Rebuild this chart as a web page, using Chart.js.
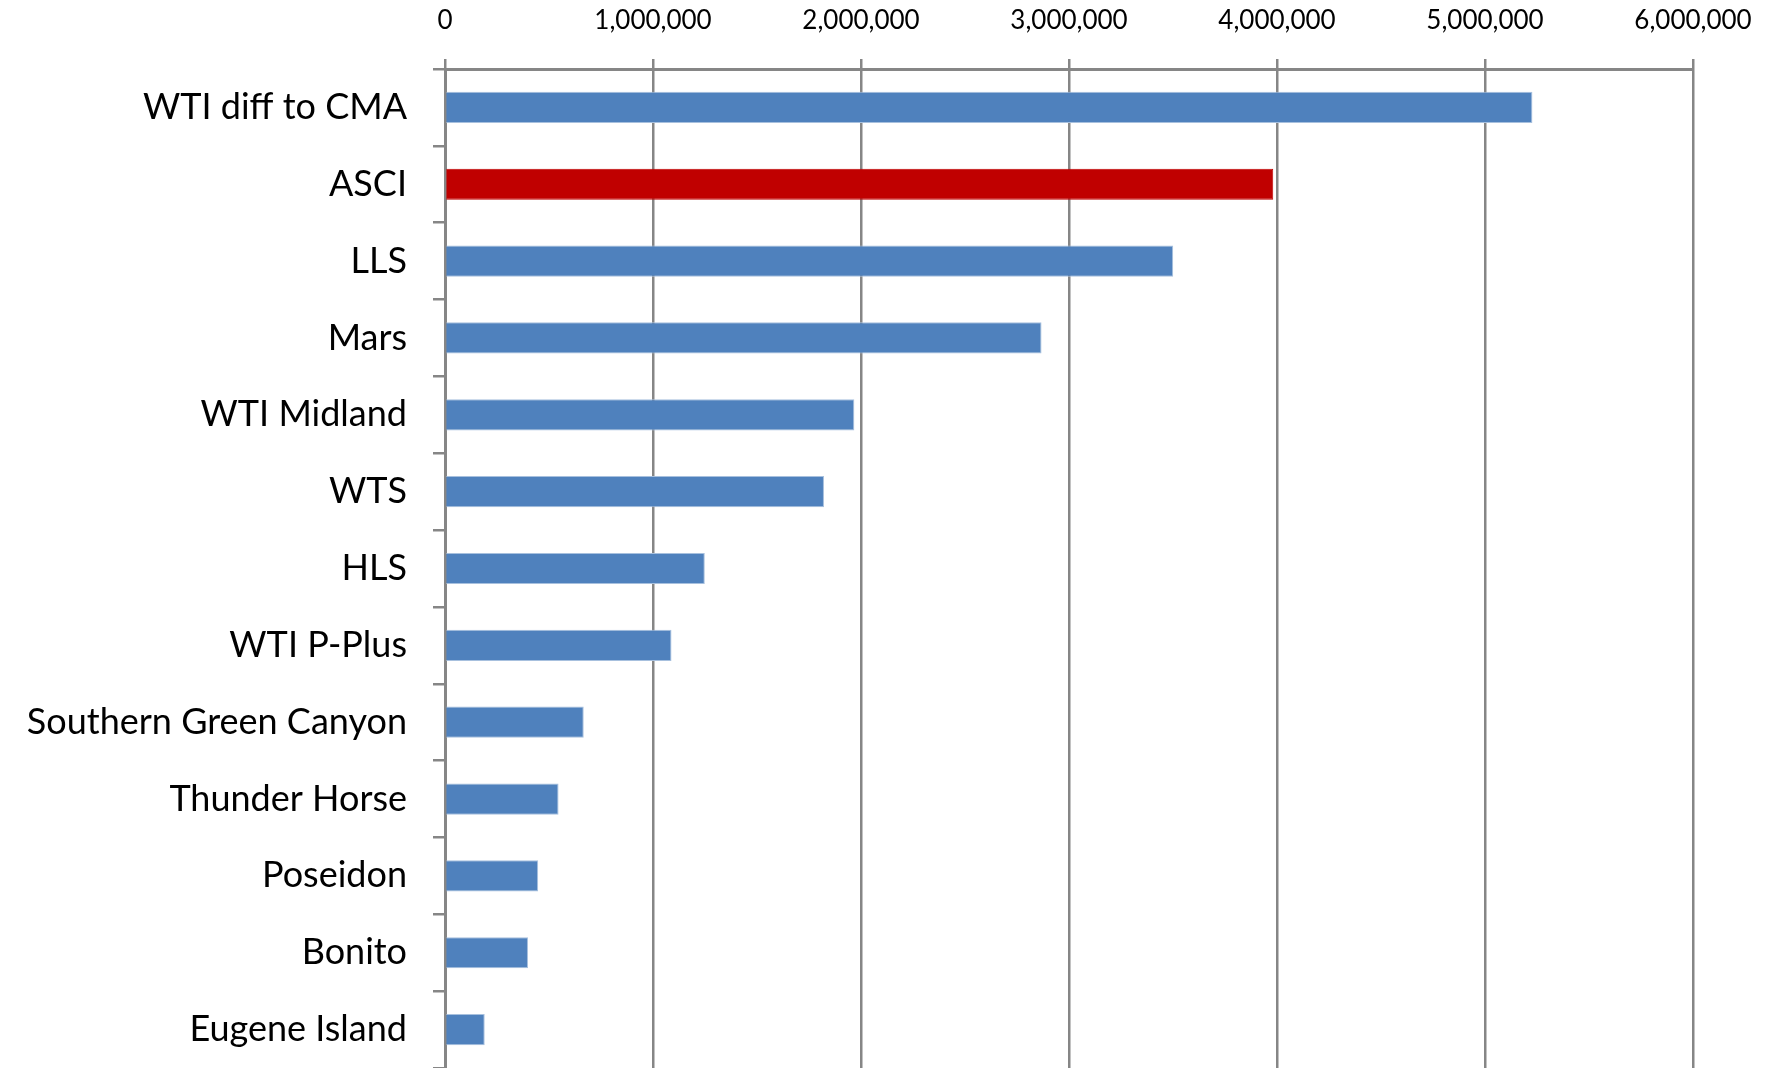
<!DOCTYPE html>
<html>
<head>
<meta charset="utf-8">
<title>Crude grades</title>
<script src="https://cdn.jsdelivr.net/npm/chart.js@4.4.1/dist/chart.umd.min.js"></script>
<style>
  html, body { margin: 0; padding: 0; background: #fff; }
  .wrap { width: 1778px; height: 1068px; position: relative; }
</style>
</head>
<body>
<div class="wrap"><canvas id="barChart"></canvas></div>
<script>
// values
const grades = [
  'WTI diff to CMA', 'ASCI', 'LLS', 'Mars', 'WTI Midland', 'WTS', 'HLS',
  'WTI P-Plus', 'Southern Green Canyon', 'Thunder Horse', 'Poseidon', 'Bonito', 'Eugene Island'
];
const volumes = [
  5228000, 3982000, 3501000, 2868000, 1968000, 1822000, 1249000,
  1089000, 667000, 546000, 448000, 399000, 191000
];
const highlight = 'ASCI';
const xTicks = [0, 1000000, 2000000, 3000000, 4000000, 5000000, 6000000];

const blue = '#4F81BD';
const red = '#C00000';
const gray = '#868686';

new Chart(document.getElementById('barChart'), {
  type: 'bar',
  data: {
    labels: grades,
    datasets: [{
      data: volumes,
      backgroundColor: grades.map(g => g === highlight ? red : blue),
      borderColor: grades.map(g => g === highlight ? red : '#A7C0DE'),
      borderWidth: 1,
      borderSkipped: 'left',
      categoryPercentage: 1,
      barPercentage: 0.406
    }]
  },
  options: {
    indexAxis: 'y',
    responsive: true,
    maintainAspectRatio: false,
    animation: false,
    layout: { padding: { left: 0, top: 0, right: 85, bottom: 0 } },
    plugins: { legend: { display: false }, tooltip: { enabled: false } },
    scales: {
      x: {
        position: 'top',
        min: xTicks[0],
        max: xTicks[xTicks.length - 1],
        afterBuildTicks: s => { s.ticks = xTicks.map(v => ({ value: v })); },
        afterFit: s => { s.height = 69; },
        ticks: {
          color: '#000',
          padding: 23,
          maxRotation: 0,
          font: { family: 'Lato', size: 26 },
          callback: v => Number(v).toLocaleString('en-US')
        },
        grid: { color: gray, lineWidth: 2.5, tickLength: 10, drawTicks: true },
        border: { display: true, color: gray, width: 3 }
      },
      y: {
        afterFit: s => { s.width = 445; s.paddingTop = 0; s.paddingBottom = 0; },
        ticks: {
          color: '#000',
          padding: 26,
          font: { family: 'Lato', size: 36 }
        },
        grid: { color: gray, lineWidth: 2.5, tickLength: 12, drawOnChartArea: false, drawTicks: true, offset: true },
        border: { display: true, color: gray, width: 3 }
      }
    }
  }
});
</script>
</body>
</html>
